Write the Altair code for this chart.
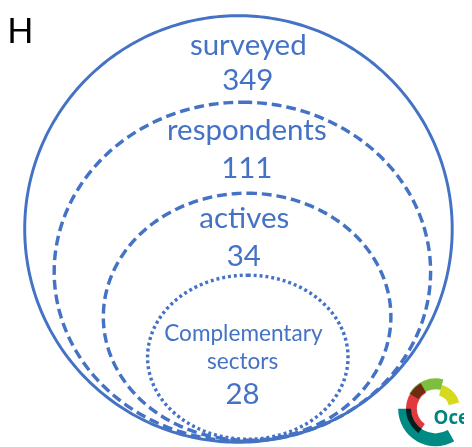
import altair as alt
import numpy as np
import pandas as pd

BLUE = "#4472C4"

# ---- data -------------------------------------------------------------
groups = ["surveyed", "respondents", "actives", "Complementary sectors"]
counts = [349, 111, 34, 28]

# nested ellipses (reference pixel frame): centre and radii
ell_cx = [242.5, 246.5, 251.3, 252.0]
ell_cy = [229.0, 272.5, 318.3, 359.5]
ell_rx = [217.5, 191.5, 146.3, 102.0]
ell_ry = [217.0, 172.5, 125.7, 83.5]

# ---- geometry ---------------------------------------------------------
t = np.linspace(0, 2 * np.pi, 361)
outline_rows = []
for g, cx, cy, rx, ry in zip(groups, ell_cx, ell_cy, ell_rx, ell_ry):
    for i, a in enumerate(t):
        outline_rows.append({"group": g, "i": i,
                             "x": cx + rx * np.sin(a), "y": cy - ry * np.cos(a)})
outlines = pd.DataFrame(outline_rows)

xs = alt.Scale(domain=[8, 472])
ys = alt.Scale(domain=[8, 447], reverse=True)

styles = {
    "surveyed": dict(strokeWidth=3),
    "respondents": dict(strokeWidth=3.5, strokeDash=[10, 5]),
    "actives": dict(strokeWidth=3.5, strokeDash=[10, 5]),
    "Complementary sectors": dict(strokeWidth=3.5, strokeDash=[3, 3]),
}

layers = []
for g in groups:
    layers.append(
        alt.Chart(outlines[outlines.group == g])
        .mark_line(color=BLUE, **styles[g])
        .encode(x=alt.X("x:Q", scale=xs, axis=None),
                y=alt.Y("y:Q", scale=ys, axis=None),
                order="i:Q")
    )

# labels
label_rows = [
    ("surveyed", 252.5, 51.7, 30),
    (str(counts[0]), 252.0, 88.0, 30),
    ("respondents", 251.0, 138.0, 30),
    (str(counts[1]), 251.0, 177.0, 30),
    ("actives", 248.5, 228.0, 30),
    (str(counts[2]), 248.0, 267.0, 30),
    ("Complementary", 247.5, 343.0, 23),
    ("sectors", 246.7, 371.7, 23),
    (str(counts[3]), 246.7, 407.0, 30),
]
labels = pd.DataFrame(label_rows, columns=["text", "x", "y", "fs"])
layers.append(
    alt.Chart(labels)
    .mark_text(color=BLUE, font="Lato", baseline="alphabetic", align="center")
    .encode(x=alt.X("x:Q", scale=xs, axis=None),
            y=alt.Y("y:Q", scale=ys, axis=None),
            text="text:N",
            size=alt.Size("fs:Q", scale=None, legend=None))
)

one = pd.DataFrame({"a": [0]})
# cut-off title fragment
layers.append(
    alt.Chart(one).mark_text(text="GH", color="black", font="Lato", fontSize=35,
                             align="right", baseline="alphabetic")
    .encode(x=alt.value(26), y=alt.value(32))
)

# logo
lx, ly = 435, 404
def arc(color, r_in, r_out, a0, a1):
    return (alt.Chart(one)
            .mark_arc(color=color, innerRadius=r_in, outerRadius=r_out,
                      theta=float(np.radians(a0)), theta2=float(np.radians(a1)),
                      blend="multiply")
            .encode(x=alt.value(lx), y=alt.value(ly)))

layers += [
    arc("#008A84", 25, 38, 150, 270),
    arc("#E0393E", 19, 30, 215, 330),
    arc("#7DBE3F", 20, 31, 300, 375),
    arc("#D6D91C", 14, 25, 15, 75),
]
layers.append(
    alt.Chart(one).mark_text(text="Oce", color="#00857F", font="Open Sans",
                             fontSize=19, fontWeight="bold", align="left",
                             baseline="alphabetic")
    .encode(x=alt.value(433), y=alt.value(419))
)

chart = (alt.layer(*layers)
         .properties(width=464, height=439, padding=0, autosize="none")
         .configure_view(stroke=None))

chart.save("out.html", embed_options={"renderer": "svg", "actions": False})
